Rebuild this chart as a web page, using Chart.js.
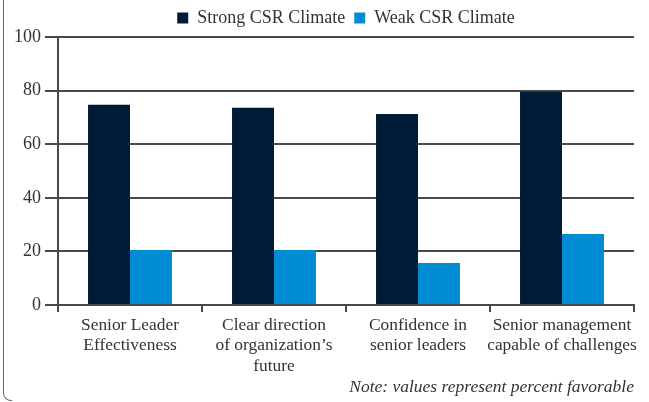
<!DOCTYPE html>
<html>
<head>
<meta charset="utf-8">
<script src="https://cdn.jsdelivr.net/npm/chart.js@4"></script>
<style>
  html, body { margin: 0; padding: 0; background: #fff; }
  #wrap { position: relative; width: 649px; height: 402px; }
  #frame { position: absolute; left: 3px; top: -10px; width: 8px; height: 410px;
    border-left: 1.5px solid #5a6a80; border-bottom: 1.5px solid #5a6a80; border-bottom-left-radius: 8px; }
  canvas { position: absolute; left: 0; top: 0; }
</style>
</head>
<body>
<div id="wrap">
  <div id="frame"></div>
  <canvas id="chart" width="649" height="402"></canvas>
</div>
<script>
// ─── Data ────────────────────────────────────────────────────────────────────
const categories = [
  ['Senior Leader', 'Effectiveness'],
  ['Clear direction', 'of organization\u2019s', 'future'],
  ['Confidence in', 'senior leaders'],
  ['Senior management', 'capable of challenges']
];
const strongCSR = [74.7, 73.6, 71.3, 79.6];
const weakCSR   = [20.5, 20.5, 15.7, 26.5];
const yTicks    = [0, 20, 40, 60, 80, 100];
const noteText  = 'Note: values represent percent favorable';

const SERIF = "'Liberation Serif', 'DejaVu Serif', serif";
const GRID  = '#4a4a4a';

// ─── Chart ───────────────────────────────────────────────────────────────────
new Chart(document.getElementById('chart'), {
  type: 'bar',
  data: {
    labels: categories,
    datasets: [
      { label: 'Strong CSR Climate', data: strongCSR, backgroundColor: '#001b38' },
      { label: 'Weak CSR Climate',   data: weakCSR,   backgroundColor: '#008bd3' }
    ]
  },
  options: {
    responsive: false, animation: false,
    layout: { padding: { left: 0, right: 15, top: 0, bottom: 4 } },
    datasets: { bar: { barPercentage: 1, categoryPercentage: 0.583 } },
    plugins: {
      legend: {
        position: 'top', fullSize: false,
        labels: {
          boxWidth: 11, boxHeight: 11, padding: 9, color: '#333',
          font: { family: SERIF, size: 18 }
        }
      },
      subtitle: {
        display: true, text: noteText, position: 'bottom', align: 'end',
        color: '#333', font: { family: SERIF, size: 17.5, style: 'italic', lineHeight: 1.2 },
        padding: { top: 2, bottom: 0 }
      },
      tooltip: { enabled: false }
    },
    scales: {
      x: {
        grid: { offset: true, drawOnChartArea: false, drawTicks: true, tickLength: 7, color: GRID, lineWidth: 2 },
        border: { display: true, color: GRID, width: 2 },
        ticks: { color: '#333', padding: 3, autoSkip: false, font: { family: SERIF, size: 17.4, lineHeight: 1.18 }, maxRotation: 0 },
        afterFit(s) { s.height = 70; }
      },
      y: {
        min: 0, max: 100,
        afterBuildTicks(s) { s.ticks = yTicks.map(v => ({ value: v })); },
        grid: { color: GRID, lineWidth: 2, drawTicks: true, tickLength: 13 },
        border: { display: true, color: GRID, width: 2 },
        ticks: { color: '#333', padding: 4, font: { family: SERIF, size: 18 } },
        afterFit(s) { s.width = 58; }
      }
    }
  }
});
</script>
</body>
</html>
